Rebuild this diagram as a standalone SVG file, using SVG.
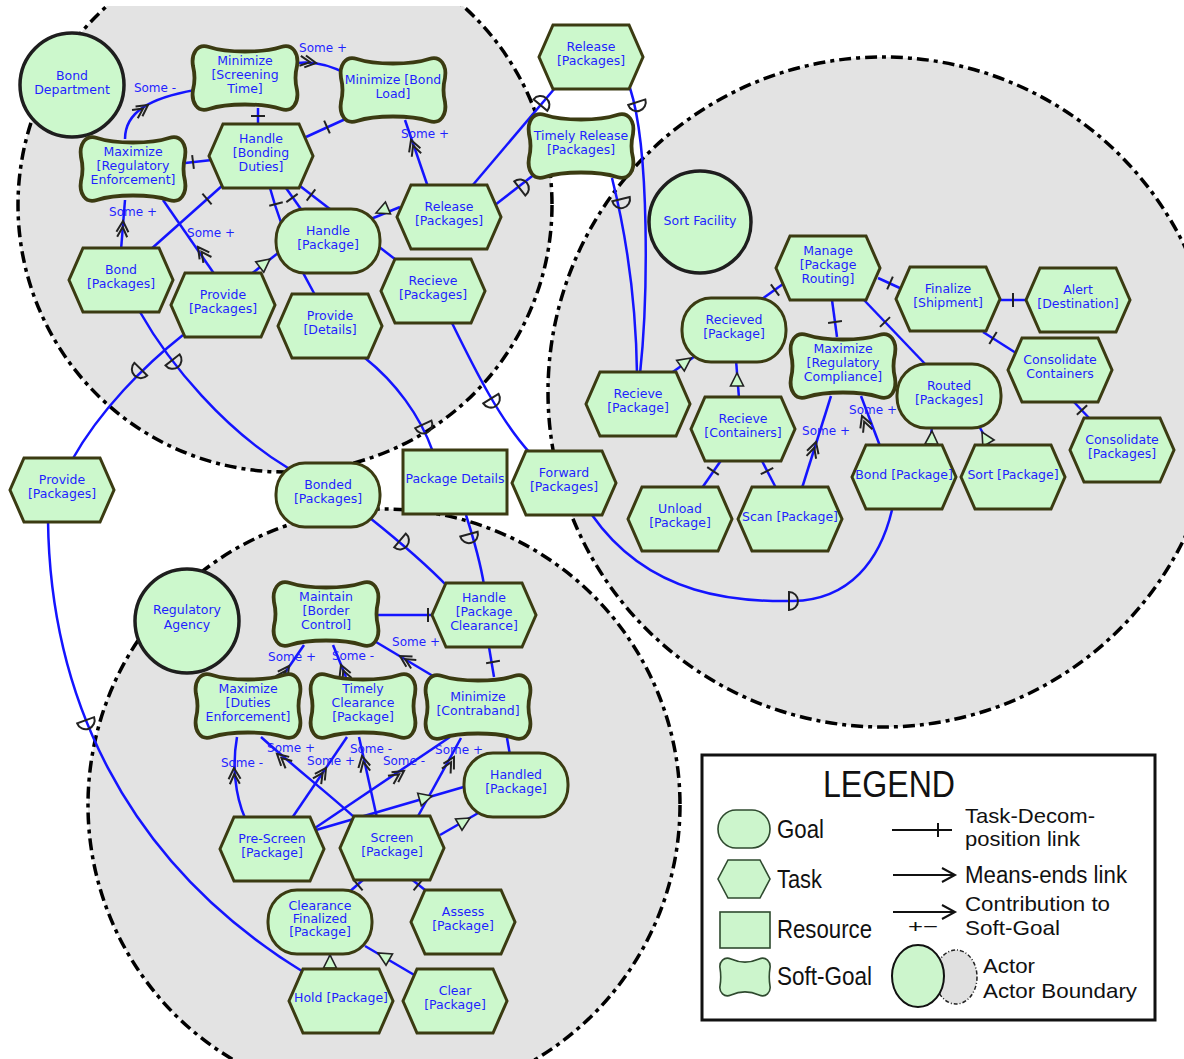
<svg xmlns="http://www.w3.org/2000/svg" xmlns:xlink="http://www.w3.org/1999/xlink" width="1184" height="1059" viewBox="0 0 1184 1059">
<style>
.bnd{fill:#e3e3e3;stroke:#000;stroke-width:3.5;stroke-dasharray:12 5 4 5}
.act{fill:#ccf8cc;stroke:#1e1e1e;stroke-width:3.5}
.node{fill:#ccf8cc;stroke:#3b3b12;stroke-width:3}
.sgs{stroke-width:3.8}
.t{font-family:"DejaVu Sans",Verdana,sans-serif;font-size:12.5px;fill:#1f1fff;text-anchor:middle}
.lb{font-size:12px}
.ln{fill:none;stroke:#1414ff;stroke-width:2.5}
.dec{fill:none;stroke:#222;stroke-width:2}
.tri{fill:#ccf8cc;stroke:#222;stroke-width:1.6}
.lg{font-family:"Liberation Sans",Arial,sans-serif;fill:#111}
.lgs{fill:#ccf5cc;stroke:#2f4a2f;stroke-width:1.6}
.lgl{fill:none;stroke:#111;stroke-width:2}
</style>
<defs>
<clipPath id="topclip"><rect x="0" y="6" width="1184" height="1053"/></clipPath>
<polygon id="task" points="-38,-32 38,-32 52,0 38,32 -38,32 -52,0"/>
<rect id="goal" x="-52" y="-32" width="104" height="64" rx="29" ry="31"/>
<rect id="res" x="-52" y="-32" width="104" height="64"/>
<path id="sg" d="M-36,-31 C-18,-25 18,-25 36,-31 C48,-35 54,-24 52,-12 C50,-4 50,4 52,12 C54,24 48,35 36,31 C18,25 -18,25 -36,31 C-48,35 -54,24 -52,12 C-50,4 -50,-4 -52,-12 C-54,-24 -48,-35 -36,-31 Z"/>
<path id="tick" d="M0,-7 L0,7"/>
<path id="arr" d="M-11,-6 L0,0 L-11,6 M-16,-5 L-6,0 L-16,5"/>
<path id="tr" d="M0,0 L-13,-6.5 L-13,6.5 Z"/>
<path id="dep" d="M-4,-9 A9,9 0 0 1 -4,9 Z"/>
</defs>

<rect x="0" y="0" width="1184" height="1059" fill="#ffffff"/>

<g id="boundaries">
<circle class="bnd" cx="285" cy="205" r="267" clip-path="url(#topclip)"/>
<circle class="bnd" cx="883" cy="392" r="335"/>
<circle class="bnd" cx="384" cy="805" r="296"/>
</g>

<g id="actors">
<g id="actor-bond-department"><circle class="act" cx="72" cy="85" r="52"/><text class="t"><tspan x="72" y="80">Bond</tspan><tspan x="72" y="94">Department</tspan></text></g>
<g id="actor-sort-facility"><circle class="act" cx="700" cy="222" r="51"/><text class="t" x="700" y="225">Sort Facility</text></g>
<g id="actor-regulatory-agency"><circle class="act" cx="187" cy="621" r="52"/><text class="t"><tspan x="187" y="614">Regulatory</tspan><tspan x="187" y="629">Agency</tspan></text></g>
</g>

<g id="connectors">
<!-- Bond Department -->
<path class="ln" d="M185,163 L212,160"/>
<path class="ln" d="M258,108 L258,126"/>
<path class="ln" d="M306,137 L352,116"/>
<path class="ln" d="M223,185 L150,250"/>
<path class="ln" d="M270,188 C280,225 298,265 315,295"/>
<path class="ln" d="M286,188 L303,212"/>
<path class="ln" d="M300,186 L400,263"/>
<path class="ln" d="M125,139 C125,112 150,98 195,90"/>
<path class="ln" d="M297,63 C312,61 330,65 347,74"/>
<path class="ln" d="M428,187 L405,120"/>
<path class="ln" d="M121,250 L125,200"/>
<path class="ln" d="M215,275 L163,200"/>
<path class="ln" d="M400,207 L366,221"/>
<path class="ln" d="M250,275 L287,246"/>
<path class="ln" d="M472,186 L555,88"/>
<path class="ln" d="M495,205 L540,170"/>
<path class="ln" d="M630,88 C650,150 648,300 640,374"/>
<path class="ln" d="M612,178 C625,230 636,300 637,374"/>
<path class="ln" d="M365,358 C395,382 420,415 433,452"/>
<path class="ln" d="M452,323 C475,370 500,420 530,453"/>
<path class="ln" d="M140,312 C170,365 225,430 288,468"/>
<path class="ln" d="M183,335 C145,365 100,410 72,460"/>
<path class="ln" d="M48,520 C50,690 120,860 305,973"/>
<path class="ln" d="M370,518 C395,538 422,560 448,587"/>
<path class="ln" d="M466,515 C474,540 480,560 484,585"/>
<path class="ln" d="M592,515 C650,598 740,602 793,601 C850,600 880,560 892,510"/>
<!-- Sort Facility -->
<path class="ln" d="M762,299 L790,279"/>
<path class="ln" d="M878,278 L902,289"/>
<path class="ln" d="M832,300 L837,337"/>
<path class="ln" d="M864,300 L927,366"/>
<path class="ln" d="M998,300 L1030,300"/>
<path class="ln" d="M983,332 L1016,353"/>
<path class="ln" d="M1073,401 L1091,420"/>
<path class="ln" d="M670,374 L698,354"/>
<path class="ln" d="M739,398 L736,360"/>
<path class="ln" d="M702,488 L722,459"/>
<path class="ln" d="M776,488 L761,459"/>
<path class="ln" d="M802,488 L831,396"/>
<path class="ln" d="M880,446 L861,396"/>
<path class="ln" d="M930,446 L932,426"/>
<path class="ln" d="M990,446 L979,426"/>
<!-- Regulatory Agency -->
<path class="ln" d="M376,615 L434,615"/>
<path class="ln" d="M489,647 L494,677"/>
<path class="ln" d="M438,679 L371,639"/>
<path class="ln" d="M282,677 L304,645"/>
<path class="ln" d="M346,677 L333,645"/>
<path class="ln" d="M245,818 C235,795 232,765 237,737"/>
<path class="ln" d="M355,818 C330,795 300,772 261,737"/>
<path class="ln" d="M292,818 L347,737"/>
<path class="ln" d="M377,818 L359,737"/>
<path class="ln" d="M315,828 L450,737"/>
<path class="ln" d="M417,818 L461,738"/>
<path class="ln" d="M316,830 L467,786"/>
<path class="ln" d="M440,835 L480,812"/>
<path class="ln" d="M507,738 L510,755"/>
<path class="ln" d="M364,879 L348,893"/>
<path class="ln" d="M410,878 L430,894"/>
<path class="ln" d="M330,970 L330,952"/>
<path class="ln" d="M416,976 L365,946"/>

<!-- decorations -->
<use href="#tick" class="dec" transform="translate(193,162) rotate(-7)"/>
<use href="#tick" class="dec" transform="translate(258,116) rotate(90)"/>
<use href="#tick" class="dec" transform="translate(327,127) rotate(-24)"/>
<use href="#tick" class="dec" transform="translate(207,199) rotate(139)"/>
<use href="#tick" class="dec" transform="translate(276,204) rotate(75)"/>
<use href="#tick" class="dec" transform="translate(292,198) rotate(54)"/>
<use href="#tick" class="dec" transform="translate(311,195) rotate(38)"/>
<use href="#arr" class="dec" transform="translate(148,105) rotate(-35)"/>
<use href="#arr" class="dec" transform="translate(316,63) rotate(8)"/>
<use href="#arr" class="dec" transform="translate(411,140) rotate(-110)"/>
<use href="#arr" class="dec" transform="translate(123,221) rotate(-87)"/>
<use href="#arr" class="dec" transform="translate(198,247) rotate(-126)"/>
<use href="#tr" class="tri" transform="translate(376,213) rotate(157)"/>
<use href="#tr" class="tri" transform="translate(270,259) rotate(-38)"/>
<use href="#dep" class="dec" transform="translate(543,102) rotate(-50)"/>
<use href="#dep" class="dec" transform="translate(523,186) rotate(-38)"/>
<use href="#dep" class="dec" transform="translate(638,106) rotate(72)"/>
<use href="#dep" class="dec" transform="translate(622,203) rotate(76)"/>
<use href="#dep" class="dec" transform="translate(425,428) rotate(65)"/>
<use href="#dep" class="dec" transform="translate(493,402) rotate(58)"/>
<use href="#dep" class="dec" transform="translate(175,363) rotate(52)"/>
<use href="#dep" class="dec" transform="translate(138,372) rotate(135)"/>
<use href="#dep" class="dec" transform="translate(87,724) rotate(70)"/>
<use href="#dep" class="dec" transform="translate(403,543) rotate(40)"/>
<use href="#dep" class="dec" transform="translate(470,538) rotate(75)"/>
<use href="#dep" class="dec" transform="translate(793,601) rotate(0)"/>
<use href="#tick" class="dec" transform="translate(775,290) rotate(-36)"/>
<use href="#tick" class="dec" transform="translate(890,283) rotate(24)"/>
<use href="#tick" class="dec" transform="translate(835,322) rotate(82)"/>
<use href="#tick" class="dec" transform="translate(885,322) rotate(46)"/>
<use href="#tick" class="dec" transform="translate(1013,300) rotate(0)"/>
<use href="#tick" class="dec" transform="translate(993,338) rotate(32)"/>
<use href="#tick" class="dec" transform="translate(1082,410) rotate(47)"/>
<use href="#tr" class="tri" transform="translate(691,358) rotate(-36)"/>
<use href="#tr" class="tri" transform="translate(737,373) rotate(-90)"/>
<use href="#tick" class="dec" transform="translate(713,471) rotate(-56)"/>
<use href="#tick" class="dec" transform="translate(767,471) rotate(-117)"/>
<use href="#arr" class="dec" transform="translate(816,442) rotate(-73)"/>
<use href="#arr" class="dec" transform="translate(862,416) rotate(-111)"/>
<use href="#tr" class="tri" transform="translate(932,431) rotate(-88)"/>
<use href="#tr" class="tri" transform="translate(982,432) rotate(-120)"/>
<use href="#tick" class="dec" transform="translate(428,615) rotate(0)"/>
<use href="#tick" class="dec" transform="translate(493,662) rotate(80)"/>
<use href="#arr" class="dec" transform="translate(400,656) rotate(-149)"/>
<use href="#arr" class="dec" transform="translate(289,666) rotate(-55)"/>
<use href="#arr" class="dec" transform="translate(341,665) rotate(-112)"/>
<use href="#arr" class="dec" transform="translate(234,768) rotate(-93)"/>
<use href="#arr" class="dec" transform="translate(277,754) rotate(-138)"/>
<use href="#arr" class="dec" transform="translate(326,768) rotate(-56)"/>
<use href="#arr" class="dec" transform="translate(362,756) rotate(-102)"/>
<use href="#arr" class="dec" transform="translate(404,771) rotate(-34)"/>
<use href="#arr" class="dec" transform="translate(454,757) rotate(-61)"/>
<use href="#tr" class="tri" transform="translate(432,796) rotate(-16)"/>
<use href="#tr" class="tri" transform="translate(470,818) rotate(-30)"/>
<use href="#tick" class="dec" transform="translate(358,885) rotate(139)"/>
<use href="#tick" class="dec" transform="translate(418,885) rotate(39)"/>
<use href="#tr" class="tri" transform="translate(330,955) rotate(-90)"/>
<use href="#tr" class="tri" transform="translate(378,953) rotate(-150)"/>

<!-- labels -->
<text class="t lb" x="155" y="92">Some -</text>
<text class="t lb" x="323" y="52">Some +</text>
<text class="t lb" x="425" y="138">Some +</text>
<text class="t lb" x="133" y="216">Some +</text>
<text class="t lb" x="211" y="237">Some +</text>
<text class="t lb" x="826" y="435">Some +</text>
<text class="t lb" x="873" y="414">Some +</text>
<text class="t lb" x="416" y="646">Some +</text>
<text class="t lb" x="292" y="661">Some +</text>
<text class="t lb" x="353" y="660">Some -</text>
<text class="t lb" x="242" y="767">Some -</text>
<text class="t lb" x="291" y="752">Some +</text>
<text class="t lb" x="331" y="765">Some +</text>
<text class="t lb" x="371" y="753">Some -</text>
<text class="t lb" x="404" y="765">Some -</text>
<text class="t lb" x="459" y="754">Some +</text>
</g>

<g id="nodes">
<g id="n-minimize-screening-time" transform="translate(245,78)"><use href="#sg" class="node sgs"/><text class="t"><tspan x="0" y="-13">Minimize</tspan><tspan x="0" y="1">[Screening</tspan><tspan x="0" y="15">Time]</tspan></text></g>
<g id="n-minimize-bond-load" transform="translate(393,90)"><use href="#sg" class="node sgs"/><text class="t"><tspan x="0" y="-6">Minimize [Bond</tspan><tspan x="0" y="8">Load]</tspan></text></g>
<g id="n-maximize-regulatory-enforcement" transform="translate(133,169)"><use href="#sg" class="node sgs"/><text class="t"><tspan x="0" y="-13">Maximize</tspan><tspan x="0" y="1">[Regulatory</tspan><tspan x="0" y="15">Enforcement]</tspan></text></g>
<g id="n-handle-bonding-duties" transform="translate(261,156)"><use href="#task" class="node"/><text class="t"><tspan x="0" y="-13">Handle</tspan><tspan x="0" y="1">[Bonding</tspan><tspan x="0" y="15">Duties]</tspan></text></g>
<g id="n-handle-package" transform="translate(328,241)"><use href="#goal" class="node"/><text class="t"><tspan x="0" y="-6">Handle</tspan><tspan x="0" y="8">[Package]</tspan></text></g>
<g id="n-release-packages-bond" transform="translate(449,217)"><use href="#task" class="node"/><text class="t"><tspan x="0" y="-6">Release</tspan><tspan x="0" y="8">[Packages]</tspan></text></g>
<g id="n-bond-packages" transform="translate(121,280)"><use href="#task" class="node"/><text class="t"><tspan x="0" y="-6">Bond</tspan><tspan x="0" y="8">[Packages]</tspan></text></g>
<g id="n-provide-packages-bond" transform="translate(223,305)"><use href="#task" class="node"/><text class="t"><tspan x="0" y="-6">Provide</tspan><tspan x="0" y="8">[Packages]</tspan></text></g>
<g id="n-provide-details" transform="translate(330,326)"><use href="#task" class="node"/><text class="t"><tspan x="0" y="-6">Provide</tspan><tspan x="0" y="8">[Details]</tspan></text></g>
<g id="n-recieve-packages" transform="translate(433,291)"><use href="#task" class="node"/><text class="t"><tspan x="0" y="-6">Recieve</tspan><tspan x="0" y="8">[Packages]</tspan></text></g>
<g id="n-release-packages-top" transform="translate(591,57)"><use href="#task" class="node"/><text class="t"><tspan x="0" y="-6">Release</tspan><tspan x="0" y="8">[Packages]</tspan></text></g>
<g id="n-timely-release" transform="translate(581,146)"><use href="#sg" class="node sgs"/><text class="t"><tspan x="0" y="-6">Timely Release</tspan><tspan x="0" y="8">[Packages]</tspan></text></g>
<g id="n-provide-packages-left" transform="translate(62,490)"><use href="#task" class="node"/><text class="t"><tspan x="0" y="-6">Provide</tspan><tspan x="0" y="8">[Packages]</tspan></text></g>
<g id="n-bonded-packages" transform="translate(328,495)"><use href="#goal" class="node"/><text class="t"><tspan x="0" y="-6">Bonded</tspan><tspan x="0" y="8">[Packages]</tspan></text></g>
<g id="n-package-details" transform="translate(455,482)"><use href="#res" class="node"/><text class="t" x="0" y="1">Package Details</text></g>
<g id="n-forward-packages" transform="translate(564,483)"><use href="#task" class="node"/><text class="t"><tspan x="0" y="-6">Forward</tspan><tspan x="0" y="8">[Packages]</tspan></text></g>

<g id="n-manage-package-routing" transform="translate(828,268)"><use href="#task" class="node"/><text class="t"><tspan x="0" y="-13">Manage</tspan><tspan x="0" y="1">[Package</tspan><tspan x="0" y="15">Routing]</tspan></text></g>
<g id="n-finalize-shipment" transform="translate(948,299)"><use href="#task" class="node"/><text class="t"><tspan x="0" y="-6">Finalize</tspan><tspan x="0" y="8">[Shipment]</tspan></text></g>
<g id="n-alert-destination" transform="translate(1078,300)"><use href="#task" class="node"/><text class="t"><tspan x="0" y="-6">Alert</tspan><tspan x="0" y="8">[Destination]</tspan></text></g>
<g id="n-consolidate-containers" transform="translate(1060,370)"><use href="#task" class="node"/><text class="t"><tspan x="0" y="-6">Consolidate</tspan><tspan x="0" y="8">Containers</tspan></text></g>
<g id="n-consolidate-packages" transform="translate(1122,450)"><use href="#task" class="node"/><text class="t"><tspan x="0" y="-6">Consolidate</tspan><tspan x="0" y="8">[Packages]</tspan></text></g>
<g id="n-maximize-regulatory-compliance" transform="translate(843,366)"><use href="#sg" class="node sgs"/><text class="t"><tspan x="0" y="-13">Maximize</tspan><tspan x="0" y="1">[Regulatory</tspan><tspan x="0" y="15">Compliance]</tspan></text></g>
<g id="n-routed-packages" transform="translate(949,396)"><use href="#goal" class="node"/><text class="t"><tspan x="0" y="-6">Routed</tspan><tspan x="0" y="8">[Packages]</tspan></text></g>
<g id="n-recieved-package" transform="translate(734,330)"><use href="#goal" class="node"/><text class="t"><tspan x="0" y="-6">Recieved</tspan><tspan x="0" y="8">[Package]</tspan></text></g>
<g id="n-recieve-package" transform="translate(638,404)"><use href="#task" class="node"/><text class="t"><tspan x="0" y="-6">Recieve</tspan><tspan x="0" y="8">[Package]</tspan></text></g>
<g id="n-recieve-containers" transform="translate(743,429)"><use href="#task" class="node"/><text class="t"><tspan x="0" y="-6">Recieve</tspan><tspan x="0" y="8">[Containers]</tspan></text></g>
<g id="n-unload-package" transform="translate(680,519)"><use href="#task" class="node"/><text class="t"><tspan x="0" y="-6">Unload</tspan><tspan x="0" y="8">[Package]</tspan></text></g>
<g id="n-scan-package" transform="translate(790,519)"><use href="#task" class="node"/><text class="t" x="0" y="2">Scan [Package]</text></g>
<g id="n-bond-package" transform="translate(904,477)"><use href="#task" class="node"/><text class="t" x="0" y="2">Bond [Package]</text></g>
<g id="n-sort-package" transform="translate(1013,477)"><use href="#task" class="node"/><text class="t" x="0" y="2">Sort [Package]</text></g>

<g id="n-maintain-border-control" transform="translate(326,614)"><use href="#sg" class="node sgs"/><text class="t"><tspan x="0" y="-13">Maintain</tspan><tspan x="0" y="1">[Border</tspan><tspan x="0" y="15">Control]</tspan></text></g>
<g id="n-handle-package-clearance" transform="translate(484,615)"><use href="#task" class="node"/><text class="t"><tspan x="0" y="-13">Handle</tspan><tspan x="0" y="1">[Package</tspan><tspan x="0" y="15">Clearance]</tspan></text></g>
<g id="n-maximize-duties-enforcement" transform="translate(248,706)"><use href="#sg" class="node sgs"/><text class="t"><tspan x="0" y="-13">Maximize</tspan><tspan x="0" y="1">[Duties</tspan><tspan x="0" y="15">Enforcement]</tspan></text></g>
<g id="n-timely-clearance" transform="translate(363,706)"><use href="#sg" class="node sgs"/><text class="t"><tspan x="0" y="-13">Timely</tspan><tspan x="0" y="1">Clearance</tspan><tspan x="0" y="15">[Package]</tspan></text></g>
<g id="n-minimize-contraband" transform="translate(478,707)"><use href="#sg" class="node sgs"/><text class="t"><tspan x="0" y="-6">Minimize</tspan><tspan x="0" y="8">[Contraband]</tspan></text></g>
<g id="n-handled-package" transform="translate(516,785)"><use href="#goal" class="node"/><text class="t"><tspan x="0" y="-6">Handled</tspan><tspan x="0" y="8">[Package]</tspan></text></g>
<g id="n-pre-screen-package" transform="translate(272,849)"><use href="#task" class="node"/><text class="t"><tspan x="0" y="-6">Pre-Screen</tspan><tspan x="0" y="8">[Package]</tspan></text></g>
<g id="n-screen-package" transform="translate(392,848)"><use href="#task" class="node"/><text class="t"><tspan x="0" y="-6">Screen</tspan><tspan x="0" y="8">[Package]</tspan></text></g>
<g id="n-clearance-finalized" transform="translate(320,922)"><use href="#goal" class="node"/><text class="t"><tspan x="0" y="-12">Clearance</tspan><tspan x="0" y="1">Finalized</tspan><tspan x="0" y="14">[Package]</tspan></text></g>
<g id="n-assess-package" transform="translate(463,922)"><use href="#task" class="node"/><text class="t"><tspan x="0" y="-6">Assess</tspan><tspan x="0" y="8">[Package]</tspan></text></g>
<g id="n-hold-package" transform="translate(341,1001)"><use href="#task" class="node"/><text class="t" x="0" y="1">Hold [Package]</text></g>
<g id="n-clear-package" transform="translate(455,1001)"><use href="#task" class="node"/><text class="t"><tspan x="0" y="-6">Clear</tspan><tspan x="0" y="8">[Package]</tspan></text></g>
</g>

<g id="legend">
<rect x="702" y="755" width="453" height="265" fill="#ffffff" stroke="#111" stroke-width="3"/>
<text class="lg" x="823" y="797" font-size="36" textLength="132" lengthAdjust="spacingAndGlyphs">LEGEND</text>
<rect class="lgs" x="718" y="810" width="52" height="38" rx="18" ry="19"/>
<polygon class="lgs" points="728,860 760,860 770,879 760,898 728,898 718,879"/>
<rect class="lgs" x="720" y="912" width="50" height="36"/>
<path class="lgs" d="M731,959 C740,963 750,963 759,959 C766,956 771,962 770,968 C769,974 769,980 770,986 C771,992 766,998 759,995 C750,991 740,991 731,995 C724,998 719,992 720,986 C721,980 721,974 720,968 C719,962 724,956 731,959 Z"/>
<text class="lg" x="777" y="838" font-size="25" textLength="47" lengthAdjust="spacingAndGlyphs">Goal</text>
<text class="lg" x="777" y="888" font-size="25" textLength="45" lengthAdjust="spacingAndGlyphs">Task</text>
<text class="lg" x="777" y="938" font-size="25" textLength="95" lengthAdjust="spacingAndGlyphs">Resource</text>
<text class="lg" x="777" y="985" font-size="25" textLength="95" lengthAdjust="spacingAndGlyphs">Soft-Goal</text>
<path class="lgl" d="M892,830 L952,830 M938,823 L938,837"/>
<path class="lgl" d="M893,875 L954,875 M942,868 L955,875 L942,882"/>
<path class="lgl" d="M893,912 L954,912 M942,905 L955,912 L942,919"/>
<text class="lg" x="908" y="933" font-size="19" textLength="30" lengthAdjust="spacingAndGlyphs">+−</text>
<text class="lg" x="965" y="823" font-size="21" textLength="130" lengthAdjust="spacingAndGlyphs">Task-Decom-</text>
<text class="lg" x="965" y="846" font-size="21" textLength="115" lengthAdjust="spacingAndGlyphs">position link</text>
<text class="lg" x="965" y="883" font-size="23" textLength="162" lengthAdjust="spacingAndGlyphs">Means-ends link</text>
<text class="lg" x="965" y="911" font-size="21" textLength="145" lengthAdjust="spacingAndGlyphs">Contribution to</text>
<text class="lg" x="965" y="935" font-size="21" textLength="95" lengthAdjust="spacingAndGlyphs">Soft-Goal</text>
<ellipse cx="956" cy="977" rx="21" ry="27" fill="#e0e0e0" stroke="#222" stroke-width="1.5" stroke-dasharray="4 2 1 2"/>
<ellipse cx="918" cy="976" rx="26" ry="31" fill="#ccf5cc" stroke="#111" stroke-width="2"/>
<text class="lg" x="983" y="973" font-size="21" textLength="52" lengthAdjust="spacingAndGlyphs">Actor</text>
<text class="lg" x="983" y="998" font-size="21" textLength="154" lengthAdjust="spacingAndGlyphs">Actor Boundary</text>
</g>
</svg>
